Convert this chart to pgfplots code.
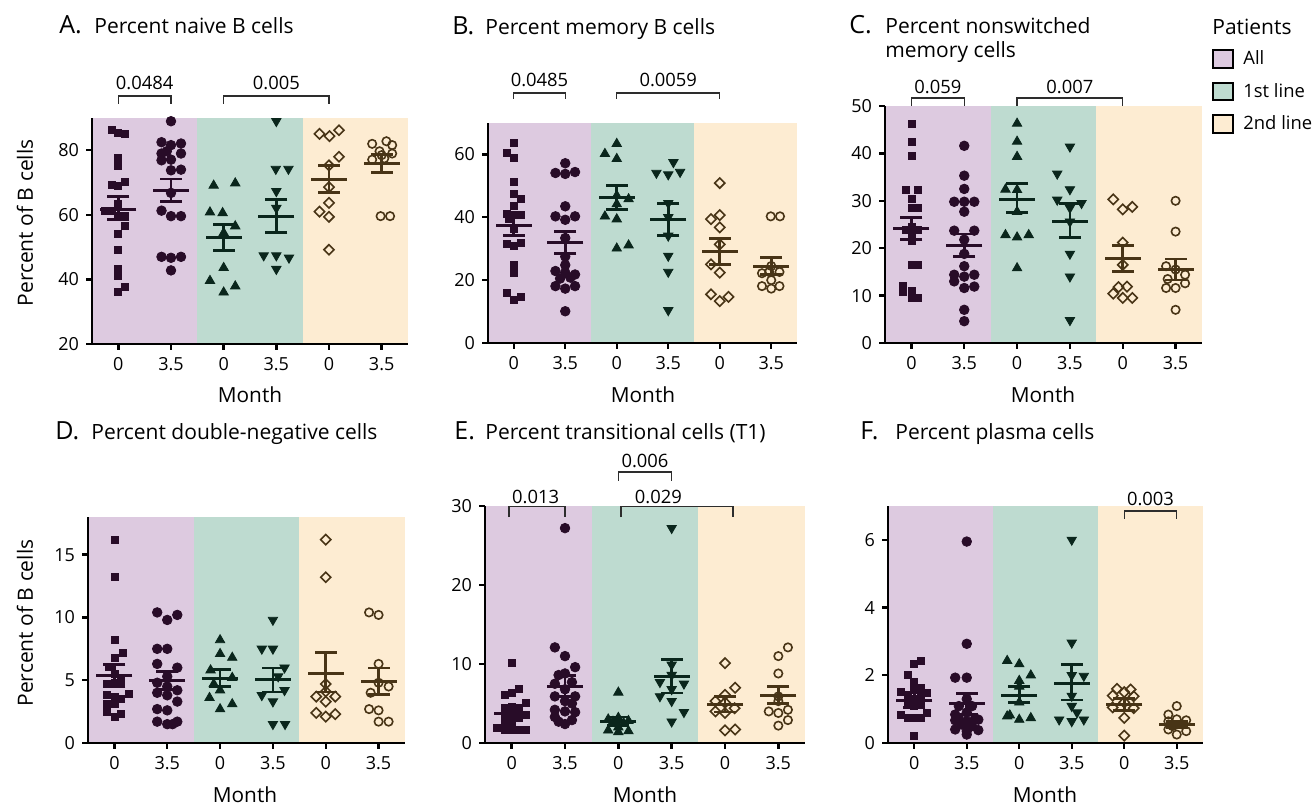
\documentclass[border=0pt]{standalone}
\usepackage{fontspec}
\setmainfont{Open Sans}
\usepackage{pgfplots}
\pgfplotsset{compat=1.18}
\definecolor{pbg}{RGB}{221,202,224}
\definecolor{gbg}{RGB}{190,219,208}
\definecolor{obg}{RGB}{253,236,210}
\definecolor{pc}{RGB}{40,12,40}
\definecolor{gc}{RGB}{10,38,28}
\definecolor{oc}{RGB}{72,52,22}
\definecolor{brkc}{RGB}{45,45,45}
\pgfplotsset{
 panel/.style={scale only axis, clip=false, axis on top, xmin=0.5, xmax=6.5, enlargelimits=false,
   axis lines=left, axis line style={-, line width=1.2pt, black},
   xtick={1,2,3,4,5,6}, xticklabels={0,3.5,0,3.5,0,3.5},
   tick align=outside, major tick length=3pt, tick style={line width=1.2pt, black},
   ticklabel style={font=\fontsize{9}{10}\selectfont, black},
   /pgf/number format/assume math mode=true},
 gsq/.style={only marks, mark=square*, mark size=1.75pt, color=pc},
 gci/.style={only marks, mark=*, mark size=2.4pt, color=pc},
 gtu/.style={only marks, mark=triangle*, mark size=2.7pt, color=gc},
 gtd/.style={only marks, mark=triangle*, mark size=2.7pt, color=gc, mark options={rotate=180}},
 gdi/.style={only marks, mark=square, mark size=1.8pt, color=oc, mark options={rotate=45, line width=0.8pt}},
 goc/.style={only marks, mark=o, mark size=2.1pt, color=oc, mark options={line width=0.8pt}},
 semb/.style={line width=1.4pt, mark=-, mark size=5.5pt, mark options={line width=1.4pt, solid}},
 meanl/.style={only marks, mark=-, mark size=9pt, mark options={line width=1.5pt}},
}
\tikzset{brk/.style={draw=brkc, line width=0.7pt}, pv/.style={inner sep=0pt, font=\fontsize{9.2}{10}\selectfont}}
\newcommand\bgs[2]{%
 \addplot[draw=none, fill=pbg, forget plot] coordinates {(0.5,#1) (0.5,#2) (2.5,#2) (2.5,#1)} -- cycle;
 \addplot[draw=none, fill=gbg, forget plot] coordinates {(2.5,#1) (2.5,#2) (4.5,#2) (4.5,#1)} -- cycle;
 \addplot[draw=none, fill=obg, forget plot] coordinates {(4.5,#1) (4.5,#2) (6.5,#2) (6.5,#1)} -- cycle;}
% mean and SEM: color, x, mean, upper, lower
\newcommand\ms[5]{\addplot[color=#1, semb] coordinates {(#2,#4) (#2,#5)};\addplot[color=#1, meanl] coordinates {(#2,#3)};}
\newcommand\lett[3]{\node[anchor=base west, inner sep=0pt, font=\fontsize{12.5}{14}\selectfont] at (#1,#2) {#3};}
\newcommand\ttl[3]{\node[anchor=base west, inner sep=0pt, font=\fontsize{10.5}{12}\selectfont] at (#1,#2) {#3};}
\newcommand\mon[2]{\node[anchor=base, inner sep=0pt, font=\fontsize{10.4}{12}\selectfont] at (#1,#2) {Month};}
\newcommand\yl[2]{\node[rotate=90, anchor=center, inner sep=0pt, font=\fontsize{10.5}{12}\selectfont] at (#1,#2) {Percent of B cells};}
\begin{document}
\begin{tikzpicture}
\useasboundingbox (0,0) rectangle (656.5pt,-403pt);
% ---------------- A
\begin{axis}[panel, at={(46pt,-172pt)}, anchor=south west, width=158pt, height=113pt, ymin=20, ymax=90, ytick={20,40,60,80}]
\bgs{20}{90}
\addplot[gsq] coordinates {(0.87,86.4) (1.0,85.3) (1.13,85.0) (1.0,77.7) (1.0,75.1) (0.87,69.3) (1.0,69.1) (1.13,70.1) (0.74,61.3) (0.87,61.1) (1.0,63.4) (1.0,59.8) (1.13,59.6) (1.13,56.7) (1.0,54.1) (1.0,49.2) (1.0,43.4) (1.0,41.0) (1.13,37.7) (1.0,36.2)};
\addplot[gci] coordinates {(2.0,89.0) (1.82,82.5) (2.0,81.6) (2.19,82.1) (1.92,79.7) (1.82,79.0) (2.19,79.0) (2.0,77.1) (1.82,76.9) (2.0,73.8) (2.19,74.0) (2.0,66.8) (1.82,61.3) (2.0,59.6) (2.19,59.6) (1.82,47.0) (2.0,46.7) (2.19,47.0) (2.0,42.8)};
\addplot[gtu] coordinates {(2.81,69.1) (3.22,69.8) (2.74,60.8) (2.98,60.6) (3.22,56.5) (3.0,54.4) (3.0,43.6) (2.74,39.6) (3.22,37.9) (3.0,36.0)};
\addplot[gtd] coordinates {(4.0,89.0) (3.99,74.2) (4.23,74.2) (4.0,67.3) (4.0,62.1) (3.76,47.4) (4.0,47.4) (4.24,46.7) (4.0,43.2)};
\addplot[gdi] coordinates {(4.82,85.1) (5.01,84.4) (5.19,86.2) (5.19,78.0) (5.0,75.3) (5.0,68.6) (5.0,63.7) (4.82,61.0) (5.0,59.4) (5.0,49.2)};
\addplot[goc] coordinates {(5.82,82.0) (6.09,82.8) (6.2,81.6) (5.82,77.1) (6.0,78.5) (6.2,79.0) (5.96,79.7) (6.05,77.5) (5.98,59.6) (6.16,59.6)};
\ms{pc}{1}{61.8}{65.6}{58.5}
\ms{pc}{2}{67.6}{71.1}{64.2}
\ms{gc}{3}{52.9}{56.9}{49.0}
\ms{gc}{4}{59.4}{64.7}{54.6}
\ms{oc}{5}{70.9}{75.4}{67.0}
\ms{oc}{6}{75.8}{78.7}{73.0}
\draw[brk] (axis cs:1,94.4) -- (axis cs:1,96.8) -- (axis cs:2,96.8) -- (axis cs:2,94.4);
\node[pv] at (axis cs:1.5,100.9) {0.0484};
\draw[brk] (axis cs:3,94.4) -- (axis cs:3,96.8) -- (axis cs:5,96.8) -- (axis cs:5,94.4);
\node[pv] at (axis cs:4,100.9) {0.005};
\end{axis}
% ---------------- B
\begin{axis}[panel, at={(244pt,-171.5pt)}, anchor=south west, width=154.5pt, height=110pt, ymin=0, ymax=70, ytick={0,20,40,60}]
\bgs{0}{70}
\addplot[gsq] coordinates {(1.0,63.7) (0.86,60.5) (1.0,59.0) (1.0,51.2) (1.0,47.4) (1.14,46.0) (1.0,43.5) (0.86,41.0) (1.0,40.7) (1.14,40.7) (0.9,39.4) (1.0,36.2) (0.86,31.4) (1.0,30.9) (1.14,31.7) (1.0,25.0) (1.0,22.2) (0.86,15.8) (1.0,13.6) (1.14,14.7)};
\addplot[gci] coordinates {(2.0,57.2) (1.81,54.1) (2.0,53.8) (2.19,54.4) (2.0,43.5) (1.81,40.3) (2.0,39.2) (2.19,40.3) (2.0,33.4) (2.0,27.5) (2.0,24.8) (1.81,22.9) (2.0,22.4) (2.19,21.8) (1.9,20.5) (2.1,20.8) (1.81,18.1) (2.0,17.3) (2.19,18.1) (2.0,10.1)};
\addplot[gtu] coordinates {(3.0,63.4) (2.77,60.2) (3.0,58.6) (3.0,46.9) (3.23,45.8) (3.0,44.2) (2.77,40.3) (3.0,39.4) (3.0,30.1) (3.23,31.1)};
\addplot[gtd] coordinates {(4.1,57.5) (3.77,54.1) (4.0,53.6) (4.23,54.4) (4.0,44.5) (4.0,40.0) (4.0,34.1) (4.0,27.7) (4.0,22.6) (4.0,10.4)};
\addplot[gdi] coordinates {(5.0,50.9) (4.83,39.4) (5.0,40.7) (5.0,36.8) (5.0,31.4) (4.83,25.0) (5.0,22.4) (4.83,15.5) (5.0,13.3) (5.17,14.7)};
\addplot[goc] coordinates {(5.99,40.3) (6.17,40.3) (5.82,22.2) (5.96,22.6) (6.16,22.6) (6.0,24.5) (5.82,18.1) (6.0,17.3) (6.16,18.1) (6.0,20.0)};
\ms{pc}{1}{37.5}{41.2}{34.3}
\ms{pc}{2}{32.0}{35.4}{28.6}
\ms{gc}{3}{46.3}{50.1}{42.6}
\ms{gc}{4}{39.4}{44.5}{34.3}
\ms{oc}{5}{29.1}{33.3}{25.0}
\ms{oc}{6}{24.2}{27.2}{21.8}
\draw[brk] (axis cs:1,77.7) -- (axis cs:1,79.6) -- (axis cs:2,79.6) -- (axis cs:2,77.7);
\node[pv] at (axis cs:1.5,83.8) {0.0485};
\draw[brk] (axis cs:3,77.7) -- (axis cs:3,79.6) -- (axis cs:5,79.6) -- (axis cs:5,77.7);
\node[pv] at (axis cs:4,83.8) {0.0059};
\end{axis}
% ---------------- C
\begin{axis}[panel, at={(442.5pt,-171.5pt)}, anchor=south west, width=158.5pt, height=118.5pt, ymin=0, ymax=50, ytick={0,10,20,30,40,50}]
\bgs{0}{50}
\addplot[gsq] coordinates {(1.0,46.3) (1.0,42.5) (1.0,39.5) (0.9,32.4) (1.13,32.4) (1.0,30.3) (1.0,28.4) (1.13,28.4) (1.0,24.5) (0.9,23.9) (1.13,23.9) (1.0,22.8) (1.0,21.5) (1.0,16.4) (1.13,16.4) (0.84,12.1) (0.84,10.7) (1.0,9.5) (1.13,9.5) (1.0,11.0)};
\addplot[gci] coordinates {(2.0,41.6) (2.0,35.3) (2.0,32.5) (1.81,29.8) (2.0,29.8) (2.19,29.8) (2.0,27.7) (1.81,23.7) (2.19,23.7) (2.0,21.8) (2.0,18.8) (2.0,16.2) (1.81,14.4) (2.0,14.0) (2.19,14.4) (1.81,13.0) (2.0,11.6) (2.19,11.9) (2.0,7.0) (2.0,4.6)};
\addplot[gtu] coordinates {(3.0,46.3) (3.0,42.5) (3.0,39.3) (2.78,32.4) (3.0,32.3) (3.0,27.7) (2.78,22.8) (3.0,22.3) (3.22,22.8) (3.0,15.8)};
\addplot[gtd] coordinates {(4.0,41.4) (3.76,35.7) (4.0,32.4) (3.76,30.2) (4.22,29.5) (4.0,28.5) (4.0,25.6) (4.0,18.8) (4.0,14.0) (4.0,4.8)};
\addplot[gdi] coordinates {(4.82,30.3) (5.0,28.2) (5.18,28.7) (5.0,21.2) (5.0,16.5) (4.92,11.8) (5.08,11.9) (4.82,10.4) (5.0,9.5) (5.18,9.5)};
\addplot[goc] coordinates {(6.0,30.0) (6.0,23.5) (5.82,16.2) (6.0,15.5) (6.18,14.4) (5.85,13.5) (6.18,12.6) (5.82,11.6) (6.0,11.6) (6.0,7.0)};
\ms{pc}{1}{24.1}{26.5}{21.9}
\ms{pc}{2}{20.5}{23.0}{18.3}
\ms{gc}{3}{30.3}{33.7}{27.6}
\ms{gc}{4}{25.6}{29.5}{22.3}
\ms{oc}{5}{17.8}{20.6}{15.0}
\ms{oc}{6}{15.4}{17.7}{13.3}
\draw[brk] (axis cs:1,50) -- (axis cs:1,51.7) -- (axis cs:2,51.7) -- (axis cs:2,50);
\node[pv] at (axis cs:1.5,54.0) {0.059};
\draw[brk] (axis cs:3,50) -- (axis cs:3,51.7) -- (axis cs:5,51.7) -- (axis cs:5,50);
\node[pv] at (axis cs:4,54.0) {0.007};
\end{axis}
% ---------------- D
\begin{axis}[panel, at={(44pt,-371.5pt)}, anchor=south west, width=158.5pt, height=113pt, ymin=0, ymax=18, ytick={0,5,10,15}]
\bgs{0}{18}
\addplot[gsq] coordinates {(1.0,16.2) (1.0,13.2) (1.0,8.2) (1.16,7.2) (1.0,6.8) (0.9,6.1) (1.0,5.5) (1.0,4.8) (0.86,4.7) (1.13,4.7) (1.27,3.9) (0.86,3.8) (1.0,3.7) (1.13,3.5) (0.86,3.1) (1.0,3.1) (0.86,2.5) (1.13,2.3) (1.0,2.1) (1.13,5.0)};
\addplot[gci] coordinates {(1.81,10.4) (2.19,10.2) (2.0,9.8) (1.81,7.5) (2.0,7.5) (1.81,6.3) (2.19,6.0) (2.0,5.3) (1.81,4.8) (2.0,4.5) (2.19,4.2) (1.81,4.0) (2.0,3.8) (2.19,3.3) (1.81,2.7) (2.0,2.6) (1.81,1.7) (2.19,1.7) (2.0,1.5) (2.1,1.5)};
\addplot[gtu] coordinates {(3.0,8.2) (3.0,7.1) (3.23,6.8) (2.82,5.8) (3.23,5.2) (2.88,4.7) (3.0,4.2) (2.8,3.6) (3.23,3.1) (3.0,2.7)};
\addplot[gtd] coordinates {(4.0,9.8) (3.79,7.5) (4.0,7.5) (4.22,6.0) (4.1,5.3) (4.22,4.2) (3.79,3.8) (4.0,3.3) (4.0,1.5) (4.23,1.5)};
\addplot[gdi] coordinates {(5.0,16.2) (5.0,13.2) (5.0,4.7) (5.0,4.1) (4.82,3.7) (5.18,3.7) (5.0,3.3) (4.82,2.4) (5.0,2.1) (5.18,2.3)};
\addplot[goc] coordinates {(5.82,10.4) (6.0,10.2) (6.0,6.3) (6.0,4.8) (6.19,4.5) (5.85,4.0) (5.82,2.7) (6.0,2.6) (6.0,1.7) (6.19,1.7)};
\ms{pc}{1}{5.39}{6.24}{4.51}
\ms{pc}{2}{4.99}{5.71}{4.25}
\ms{gc}{3}{5.12}{5.84}{4.51}
\ms{gc}{4}{5.04}{5.97}{4.06}
\ms{oc}{5}{5.57}{7.19}{4.06}
\ms{oc}{6}{4.91}{5.97}{3.88}
\end{axis}
% ---------------- E
\begin{axis}[panel, at={(242.5pt,-371.5pt)}, anchor=south west, width=160pt, height=118.5pt, ymin=0, ymax=30, ytick={0,10,20,30}]
\bgs{0}{30}
\addplot[gsq] coordinates {(1.0,10.1) (1.13,6.8) (1.0,6.4) (0.87,6.1) (1.27,5.1) (1.0,4.6) (0.87,4.4) (1.13,4.4) (1.0,3.6) (0.87,3.6) (1.27,3.6) (1.13,3.2) (1.0,3.0) (0.87,2.6) (0.73,1.9) (0.87,1.7) (1.0,1.7) (1.13,1.7) (1.27,1.7) (1.0,2.4)};
\addplot[gci] coordinates {(2.0,27.2) (1.81,12.1) (2.0,11.0) (2.19,9.6) (2.0,8.8) (1.88,8.6) (2.13,7.7) (1.81,7.5) (2.0,6.8) (1.81,5.9) (2.19,5.9) (2.0,5.3) (2.13,5.0) (1.81,4.2) (2.0,4.0) (2.19,3.9) (1.81,3.3) (2.13,2.9) (2.0,2.4) (1.88,2.7)};
\addplot[gtu] coordinates {(3.0,6.4) (3.0,3.2) (2.81,3.0) (3.19,2.8) (2.9,2.7) (3.1,2.5) (3.0,2.0) (2.81,1.6) (3.19,1.5) (3.0,1.4)};
\addplot[gtd] coordinates {(4.0,27.2) (4.0,9.9) (4.0,8.6) (3.78,7.7) (4.23,7.5) (4.0,6.8) (3.78,5.9) (4.0,5.3) (4.23,3.9) (4.0,2.7)};
\addplot[gdi] coordinates {(5.0,10.1) (5.19,7.0) (5.0,6.1) (4.82,5.3) (5.0,5.1) (5.18,4.4) (4.82,4.0) (5.0,3.8) (5.19,1.7) (5.0,1.6)};
\addplot[goc] coordinates {(6.18,12.1) (6.0,11.0) (6.0,8.8) (6.0,5.9) (6.0,5.3) (6.18,4.2) (5.82,4.0) (6.0,3.8) (6.18,2.9) (6.0,2.2)};
\ms{pc}{1}{3.79}{4.55}{3.03}
\ms{pc}{2}{7.16}{8.51}{5.90}
\ms{gc}{3}{2.70}{3.29}{2.19}
\ms{gc}{4}{8.43}{10.6}{6.32}
\ms{oc}{5}{4.93}{5.90}{3.92}
\ms{oc}{6}{5.98}{7.16}{4.97}
\draw[brk] (axis cs:0.95,28.6) -- (axis cs:0.95,29.9) -- (axis cs:2,29.9) -- (axis cs:2,28.6);
\node[pv] at (axis cs:1.45,31.1) {0.013};
\draw[brk] (axis cs:3.05,28.6) -- (axis cs:3.05,29.9) -- (axis cs:5.15,29.9) -- (axis cs:5.15,28.6);
\node[pv] at (axis cs:3.75,31.1) {0.029};
\draw[brk] (axis cs:3,33.2) -- (axis cs:3,34.3) -- (axis cs:4,34.3) -- (axis cs:4,33.2);
\node[pv] at (axis cs:3.5,35.7) {0.006};
\end{axis}
% ---------------- F
\begin{axis}[panel, at={(444pt,-371.5pt)}, anchor=south west, width=157.5pt, height=118.5pt, ymin=0, ymax=7, ytick={0,2,4,6}]
\bgs{0}{7}
\addplot[gsq] coordinates {(1.13,2.43) (1.0,2.33) (0.87,2.0) (1.0,1.8) (1.13,1.64) (1.0,1.59) (0.75,1.51) (1.25,1.49) (0.87,1.39) (1.13,1.34) (1.0,1.29) (0.87,1.19) (1.13,1.19) (1.25,0.89) (0.75,0.84) (0.87,0.74) (1.0,0.74) (1.13,0.74) (1.0,1.1) (1.0,0.22)};
\addplot[gci] coordinates {(2.0,5.95) (2.0,2.93) (1.78,1.93) (2.0,1.93) (2.0,1.3) (1.85,1.09) (2.1,1.09) (2.0,0.9) (1.78,0.84) (1.85,0.7) (2.15,0.69) (2.22,0.69) (1.78,0.67) (2.0,0.64) (1.9,0.55) (2.1,0.5) (1.78,0.4) (2.0,0.35) (2.22,0.38) (2.0,0.25)};
\addplot[gtu] coordinates {(2.77,2.43) (3.0,2.33) (3.22,2.0) (3.0,1.84) (3.0,1.67) (3.0,1.2) (2.82,0.82) (2.77,0.79) (3.22,0.74) (3.0,0.69)};
\addplot[gtd] coordinates {(4.0,6.0) (4.0,2.96) (4.0,2.0) (4.23,1.98) (4.0,1.39) (4.0,1.09) (4.1,0.9) (3.76,0.69) (4.0,0.64) (4.23,0.69)};
\addplot[gdi] coordinates {(4.86,1.6) (5.12,1.58) (5.0,1.5) (4.78,1.4) (5.18,1.38) (5.0,1.2) (4.78,1.05) (5.18,1.03) (5.0,0.74) (5.0,0.22)};
\addplot[goc] coordinates {(6.0,1.09) (5.84,0.84) (6.0,0.7) (6.18,0.67) (5.84,0.64) (6.1,0.55) (5.92,0.5) (5.84,0.4) (6.18,0.35) (6.0,0.25)};
\ms{pc}{1}{1.26}{1.49}{1.04}
\ms{pc}{2}{1.16}{1.47}{0.84}
\ms{gc}{3}{1.41}{1.67}{1.19}
\ms{gc}{4}{1.77}{2.31}{1.27}
\ms{oc}{5}{1.14}{1.31}{0.97}
\ms{oc}{6}{0.55}{0.64}{0.45}
\draw[brk] (axis cs:5,6.62) -- (axis cs:5,6.85) -- (axis cs:6,6.85) -- (axis cs:6,6.62);
\node[pv] at (axis cs:5.5,7.2) {0.003};
\end{axis}
% ---------------- titles and labels
\lett{29.5pt}{-17pt}{A.}\ttl{47pt}{-17pt}{Percent naive B cells}
\lett{226pt}{-17.5pt}{B.}\ttl{242.5pt}{-17.5pt}{Percent memory B cells}
\lett{424.5pt}{-17pt}{C.}\ttl{442.5pt}{-17pt}{Percent nonswitched}\ttl{442.5pt}{-29pt}{memory cells}
\lett{27.5pt}{-220pt}{D.}\ttl{45.5pt}{-220pt}{Percent double-negative cells}
\lett{227pt}{-220pt}{E.}\ttl{242.5pt}{-220pt}{Percent transitional cells (T1)}
\lett{430pt}{-220pt}{F.}\ttl{447.5pt}{-220pt}{Percent plasma cells}
\yl{12.5pt}{-111.5pt}\yl{12.5pt}{-311.5pt}
\mon{125pt}{-201.5pt}\mon{321.5pt}{-201.5pt}\mon{521.5pt}{-201.5pt}
\mon{122.5pt}{-401.5pt}\mon{322.5pt}{-401.5pt}\mon{522.5pt}{-401.5pt}
% legend
\node[anchor=base west, inner sep=0pt, font=\fontsize{10.5}{12}\selectfont] at (606pt,-17.5pt) {Patients};
\draw[fill=pbg, line width=0.8pt] (606.5pt,-25pt) rectangle (616.5pt,-34pt);
\draw[fill=gbg, line width=0.8pt] (606.5pt,-41.5pt) rectangle (616.5pt,-50pt);
\draw[fill=obg, line width=0.8pt] (606.5pt,-57.5pt) rectangle (616.5pt,-66.5pt);
\node[anchor=base west, inner sep=0pt, font=\fontsize{9.2}{11}\selectfont] at (621.5pt,-32.5pt) {All};
\node[anchor=base west, inner sep=0pt, font=\fontsize{9.2}{11}\selectfont] at (621.5pt,-49pt) {1st line};
\node[anchor=base west, inner sep=0pt, font=\fontsize{9.2}{11}\selectfont] at (621.5pt,-65pt) {2nd line};
\end{tikzpicture}
\end{document}
